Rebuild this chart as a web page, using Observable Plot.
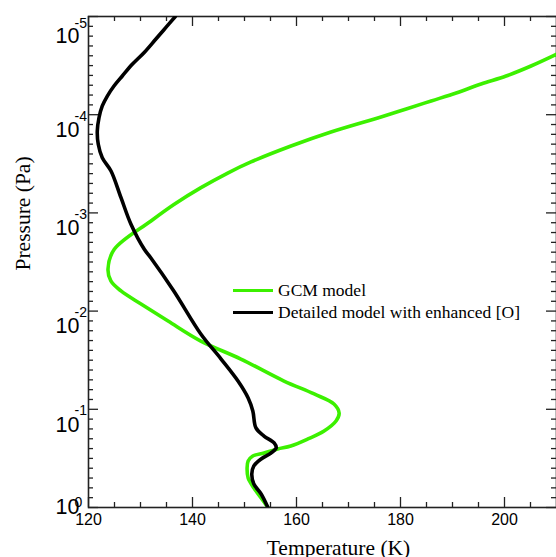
<!DOCTYPE html>
<html>
<head>
<meta charset="utf-8">
<script src="https://cdn.jsdelivr.net/npm/d3@7"></script>
<script src="https://cdn.jsdelivr.net/npm/@observablehq/plot@0.6"></script>
<style>
  html, body { margin: 0; padding: 0; background: #fff; }
  #wrap { position: relative; width: 556px; height: 557px; overflow: hidden; }
  #legend { position: absolute; left: 233px; top: 279px; font-family: "Liberation Serif", "Times New Roman", serif; font-size: 17.5px; color: #000; }
  #legend .row { display: flex; align-items: center; height: 22px; white-space: nowrap; }
  #legend .sw { width: 40px; height: 3px; margin-right: 5px; }
</style>
</head>
<body>
<div id="wrap"></div>
<script>
// ---- data ----
const seriesNames = ["GCM model", "Detailed model with enhanced [O]"];
const seriesColors = ["#3cf000", "#000000"];

// GCM model: temperature (K) and log10 pressure (Pa)
const gcmT = [210.1, 205.1, 200.3, 195.5, 190.7, 185.9, 181.1, 176.25, 166.63, 158.94, 151.25, 146.77, 141.63, 136.5, 132.02, 124.96, 123.75, 124.3, 126.25, 130.1, 135.3, 141.6, 149.3, 157.6, 163.4, 167.2, 168.2, 167.6, 165.3, 162.2, 158.9, 156.4, 153.75, 151.6, 150.7, 150.5, 150.7, 151.8, 153.2, 154.5];
const gcmLogP = [-4.618, -4.496, -4.394, -4.313, -4.221, -4.140, -4.058, -3.977, -3.824, -3.681, -3.519, -3.406, -3.257, -3.088, -2.918, -2.629, -2.429, -2.307, -2.205, -2.072, -1.899, -1.695, -1.512, -1.288, -1.156, -1.054, -0.962, -0.881, -0.779, -0.698, -0.626, -0.596, -0.555, -0.525, -0.474, -0.402, -0.300, -0.199, -0.097, 0.0];

// Detailed model with enhanced [O]
const detT = [136.7, 134.85, 132.92, 130.67, 128.42, 126.5, 124.9, 123.62, 122.65, 122.02, 121.69, 121.88, 122.65, 124.33, 126.25, 128.17, 130.73, 132.0, 136.4, 141.6, 145.5, 148.75, 150.7, 151.6, 152.2, 153.75, 155.7, 156.1, 155.1, 153.2, 151.8, 151.4, 151.8, 153.2, 154.5];
const detLogP = [-5.0, -4.886, -4.768, -4.631, -4.513, -4.394, -4.292, -4.190, -4.089, -3.969, -3.834, -3.699, -3.562, -3.427, -3.155, -2.884, -2.629, -2.541, -2.205, -1.767, -1.512, -1.288, -1.115, -0.983, -0.810, -0.728, -0.657, -0.606, -0.555, -0.494, -0.423, -0.341, -0.239, -0.138, 0.0];

// axes
const xDomain = [120, 210];
const xMajorTicks = [120, 140, 160, 180, 200];
const xMinorTicks = [125, 130, 135, 145, 150, 155, 165, 170, 175, 185, 190, 195, 205];
const yExponents = [-5, -4, -3, -2, -1, 0];
const yMinorExp = d3.range(-50, 1).filter(k => k % 10 !== 0).map(k => k / 10);
const xTitle = "Temperature (K)";
const yTitle = "Pressure (Pa)";

// ---- build ----
const W = 556, H = 557;
const mT = 16, mB = 50, mL = 88, mR = 0;
const fw = W - mL - mR, fh = H - mT - mB;

const rows = [];
gcmT.forEach((t, i) => rows.push({s: seriesNames[0], T: t, P: 10 ** gcmLogP[i]}));
detT.forEach((t, i) => rows.push({s: seriesNames[1], T: t, P: 10 ** detLogP[i]}));

const axisColor = "#222";
const sans = "'Liberation Sans', Arial, Helvetica, sans-serif";
const narrow = "'Liberation Sans Narrow', 'Liberation Sans', Arial, sans-serif";
const serif = "'Liberation Serif', 'Times New Roman', serif";

const labelMarks = [];
for (const e of yExponents) {
  const dyTen = e === 0 ? 0 : (e === -5 ? 20 : 15.5);
  const dySup = e === 0 ? -5 : (e === -5 ? 7 : 1.5);
  labelMarks.push(Plot.text([e], {y: d => 10 ** d, frameAnchor: "left", text: () => "10", textAnchor: "end", lineAnchor: "middle", dx: -9, dy: dyTen, fontSize: 21.5, fontFamily: sans, fill: "#000"}));
  labelMarks.push(Plot.text([e], {y: d => 10 ** d, frameAnchor: "left", text: d => String(d), textAnchor: "start", lineAnchor: "middle", dx: -14, dy: dySup, fontSize: 14, fontFamily: sans, fill: "#000"}));
}

const chart = Plot.plot({
  width: W,
  height: H,
  marginTop: mT,
  marginBottom: mB,
  marginLeft: mL,
  marginRight: mR,
  style: {background: "transparent", overflow: "visible"},
  x: {domain: xDomain, axis: null},
  y: {type: "log", domain: [1, 1e-5], axis: null},
  color: {domain: seriesNames, range: seriesColors},
  marks: [
    // ticks (inward)
    Plot.tickX(xMajorTicks, {x: d => d, insetTop: fh - 10, stroke: axisColor, strokeWidth: 1.3}),
    Plot.tickX(xMinorTicks, {x: d => d, insetTop: fh - 5, stroke: axisColor, strokeWidth: 1.3}),
    Plot.tickX(xMajorTicks, {x: d => d, insetBottom: fh - 10, stroke: axisColor, strokeWidth: 1.3}),
    Plot.tickX(xMinorTicks, {x: d => d, insetBottom: fh - 5, stroke: axisColor, strokeWidth: 1.3}),
    Plot.tickY(yExponents, {y: d => 10 ** d, insetRight: fw - 10, stroke: axisColor, strokeWidth: 1.3}),
    Plot.tickY(yMinorExp, {y: d => 10 ** d, insetRight: fw - 5, stroke: axisColor, strokeWidth: 1.3}),
    Plot.tickY(yExponents, {y: d => 10 ** d, insetLeft: fw - 10, stroke: axisColor, strokeWidth: 1.3}),
    Plot.tickY(yMinorExp, {y: d => 10 ** d, insetLeft: fw - 5, stroke: axisColor, strokeWidth: 1.3}),
    Plot.frame({stroke: axisColor, strokeWidth: 1.6}),
    // curves
    Plot.line(rows, {x: "T", y: "P", z: "s", stroke: "s", strokeWidth: 3.6, curve: "catmull-rom", strokeLinejoin: "round", strokeLinecap: "round", clip: true}),
    // x tick labels
    Plot.text(xMajorTicks, {x: d => d, frameAnchor: "bottom", text: d => String(d), lineAnchor: "top", dy: 6, fontSize: 16, fontFamily: narrow, fill: "#000", letterSpacing: "-0.8px"}),
    ...labelMarks,
    // axis titles
    Plot.text([xTitle], {frameAnchor: "bottom", text: d => d, lineAnchor: "top", dx: 16, dy: 32, fontSize: 21.5, fontFamily: serif, fill: "#000"}),
    Plot.text([yTitle], {frameAnchor: "left", text: d => d, rotate: -90, lineAnchor: "middle", dx: -65, dy: 8.5, fontSize: 21.5, fontFamily: serif, fill: "#000"})
  ]
});

const wrap = document.getElementById("wrap");
wrap.appendChild(chart);

const legend = document.createElement("div");
legend.id = "legend";
seriesNames.forEach((name, i) => {
  const row = document.createElement("div");
  row.className = "row";
  const sw = document.createElement("span");
  sw.className = "sw";
  sw.style.background = seriesColors[i];
  const tx = document.createElement("span");
  tx.textContent = name;
  row.appendChild(sw);
  row.appendChild(tx);
  legend.appendChild(row);
});
wrap.appendChild(legend);
</script>
</body>
</html>
